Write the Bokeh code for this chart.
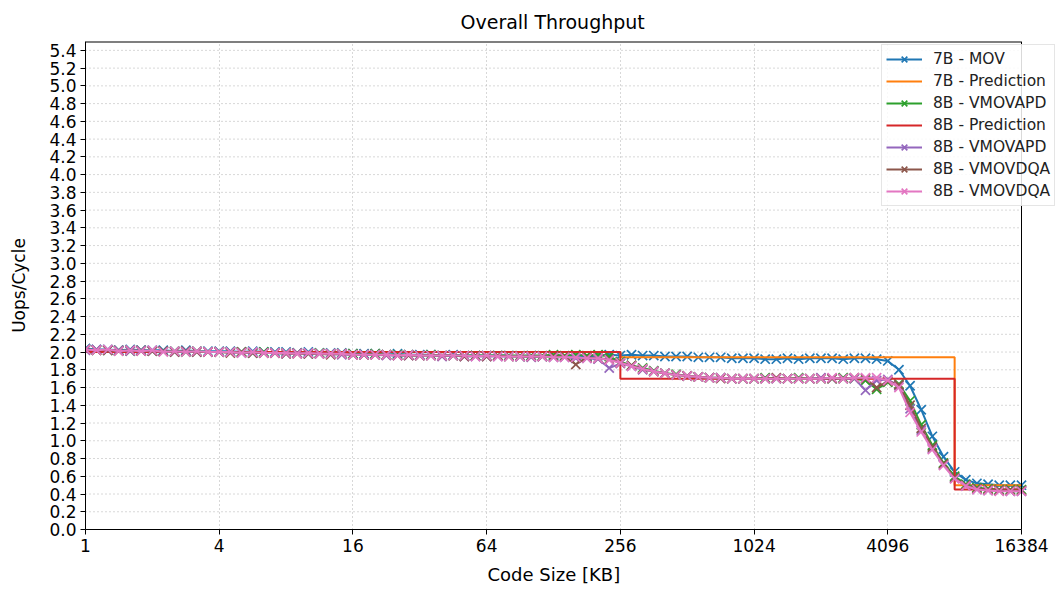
from bokeh.plotting import figure
from bokeh.models import (Range1d, FixedTicker, PrintfTickFormatter, NumeralTickFormatter,
                          Legend, LegendItem, Span, Title)
from bokeh.embed import file_html
from bokeh.resources import INLINE

# ---------------- data ----------------
SIZES_KB = [1, 1.12, 1.26, 1.41, 1.59, 1.78, 2, 2.24, 2.52, 2.83, 3.17, 3.56,
            4, 4.49, 5.04, 5.66, 6.35, 7.13, 8, 8.98, 10.08, 11.31, 12.7, 14.25,
            16, 17.96, 20.16, 22.63, 25.4, 28.51, 32, 35.92, 40.32, 45.25, 50.8, 57.02,
            64, 71.84, 80.63, 90.51, 101.6, 114.0, 128, 143.7, 161.3, 181.0, 203.2, 228.1,
            256, 287.4, 322.5, 362.0, 406.4, 456.1, 512, 574.7, 645.1, 724.1, 812.7, 912.3,
            1024, 1149, 1290, 1448, 1625, 1825, 2048, 2299, 2580, 2896, 3251, 3649,
            4096, 4598, 5161, 5793, 6502, 7298, 8192, 9195, 10321, 11585, 13004, 14596, 16384]

MOV_7B = [2.04, 2.03, 2.03, 2.02, 2.03, 2.02, 2.02, 2.02, 2.01, 2.02, 2.01, 2.01,
          2.01, 2.01, 2.00, 2.01, 2.00, 2.00, 2.00, 1.99, 2.00, 1.99, 1.99, 1.99,
          1.98, 1.98, 1.98, 1.97, 1.98, 1.97, 1.97, 1.97, 1.96, 1.97, 1.96, 1.96,
          1.96, 1.96, 1.96, 1.95, 1.96, 1.95, 1.96, 1.95, 1.96, 1.95, 1.96, 1.97,
          1.96, 1.97, 1.96, 1.96, 1.95, 1.95, 1.95, 1.94, 1.94, 1.94, 1.93, 1.93,
          1.93, 1.92, 1.92, 1.93, 1.92, 1.93, 1.93, 1.93, 1.92, 1.93, 1.93, 1.92,
          1.90, 1.80, 1.62, 1.35, 1.05, 0.82, 0.65, 0.56, 0.52, 0.51, 0.50, 0.50, 0.50]

VMOVAPD_8B_A = [2.03, 2.02, 2.02, 2.02, 2.01, 2.02, 2.01, 2.01, 2.01, 2.00, 2.01, 2.00,
                2.00, 2.00, 2.00, 1.99, 2.00, 1.99, 1.99, 1.99, 1.98, 1.99, 1.98, 1.98,
                1.98, 1.97, 1.98, 1.97, 1.97, 1.97, 1.96, 1.97, 1.96, 1.96, 1.96, 1.96,
                1.96, 1.96, 1.96, 1.96, 1.96, 1.96, 1.97, 1.96, 1.97, 1.96, 1.97, 1.95,
                1.89, 1.85, 1.82, 1.79, 1.76, 1.75, 1.73, 1.72, 1.71, 1.71, 1.70, 1.70,
                1.70, 1.71, 1.70, 1.70, 1.71, 1.70, 1.70, 1.70, 1.71, 1.70, 1.68, 1.58,
                1.66, 1.64, 1.45, 1.18, 0.95, 0.75, 0.60, 0.51, 0.47, 0.46, 0.45, 0.45, 0.45]

VMOVAPD_8B_B = [2.02, 2.03, 2.02, 2.02, 2.01, 2.02, 2.01, 2.01, 2.00, 2.01, 2.00, 2.00,
                2.00, 2.00, 1.99, 1.99, 1.99, 1.99, 1.98, 1.99, 1.98, 1.98, 1.98, 1.97,
                1.97, 1.97, 1.97, 1.96, 1.96, 1.96, 1.96, 1.96, 1.95, 1.96, 1.95, 1.95,
                1.95, 1.95, 1.95, 1.95, 1.94, 1.95, 1.94, 1.94, 1.93, 1.93, 1.92, 1.82,
                1.87, 1.84, 1.80, 1.78, 1.76, 1.74, 1.73, 1.72, 1.71, 1.71, 1.70, 1.70,
                1.70, 1.70, 1.70, 1.70, 1.70, 1.70, 1.71, 1.70, 1.70, 1.70, 1.57, 1.68,
                1.69, 1.62, 1.36, 1.12, 0.91, 0.73, 0.58, 0.49, 0.45, 0.44, 0.44, 0.43, 0.43]

VMOVDQA_8B_A = [2.03, 2.02, 2.02, 2.01, 2.02, 2.01, 2.01, 2.01, 2.00, 2.01, 2.00, 2.00,
                2.00, 1.99, 2.00, 1.99, 1.99, 1.99, 1.98, 1.98, 1.98, 1.98, 1.97, 1.98,
                1.97, 1.97, 1.97, 1.97, 1.96, 1.96, 1.96, 1.96, 1.96, 1.96, 1.95, 1.96,
                1.95, 1.96, 1.95, 1.95, 1.95, 1.95, 1.95, 1.95, 1.86, 1.94, 1.93, 1.92,
                1.88, 1.85, 1.81, 1.78, 1.76, 1.74, 1.73, 1.72, 1.71, 1.70, 1.70, 1.70,
                1.70, 1.70, 1.71, 1.70, 1.70, 1.70, 1.70, 1.70, 1.70, 1.71, 1.70, 1.60,
                1.67, 1.63, 1.40, 1.14, 0.93, 0.74, 0.58, 0.50, 0.46, 0.45, 0.44, 0.44, 0.44]

VMOVDQA_8B_B = [2.03, 2.02, 2.03, 2.01, 2.02, 2.01, 2.02, 2.00, 2.01, 2.00, 2.01, 2.00,
                2.00, 2.00, 1.99, 2.00, 1.99, 1.99, 1.99, 1.98, 1.99, 1.98, 1.98, 1.98,
                1.97, 1.97, 1.97, 1.97, 1.96, 1.97, 1.96, 1.96, 1.96, 1.96, 1.96, 1.95,
                1.96, 1.95, 1.95, 1.95, 1.95, 1.95, 1.94, 1.94, 1.94, 1.93, 1.93, 1.91,
                1.88, 1.84, 1.81, 1.78, 1.76, 1.74, 1.73, 1.72, 1.71, 1.71, 1.70, 1.70,
                1.70, 1.70, 1.70, 1.70, 1.70, 1.70, 1.70, 1.71, 1.70, 1.71, 1.71, 1.71,
                1.68, 1.60, 1.32, 1.10, 0.90, 0.72, 0.57, 0.49, 0.45, 0.44, 0.43, 0.43, 0.43]

PRED_X = [1, 256, 8192, 16384]
PRED_7B = [2.00, 1.94, 0.50, 0.50]
PRED_8B = [2.00, 1.70, 0.45, 0.45]

X_TICKS = [1, 4, 16, 64, 256, 1024, 4096, 16384]
Y_TICKS = [0.0, 0.2, 0.4, 0.6, 0.8, 1.0, 1.2, 1.4, 1.6, 1.8, 2.0, 2.2, 2.4, 2.6,
           2.8, 3.0, 3.2, 3.4, 3.6, 3.8, 4.0, 4.2, 4.4, 4.6, 4.8, 5.0, 5.2, 5.4]
X_MIN, X_MAX = 1, 16384
Y_MIN, Y_MAX = 0.0, 5.5

FONT = "DejaVu Sans"

# ---------------- layout (pixels) ----------------
W, H = 1058, 591
AX_LEFT, AX_RIGHT, AX_TOP, AX_BOTTOM = 85, 1021, 41, 530   # plotted box
FRAME_RIGHT = 1057                                          # frame extended so legend can overhang
px_per_oct = (AX_RIGHT - AX_LEFT) / 14.0
x_end = X_MAX * 2 ** ((FRAME_RIGHT - AX_RIGHT) / px_per_oct)

p = figure(width=W, height=H, x_axis_type="log",
           x_range=Range1d(X_MIN, x_end), y_range=Range1d(Y_MIN, Y_MAX),
           output_backend="svg", toolbar_location=None,
           min_border_left=AX_LEFT, min_border_right=W - FRAME_RIGHT,
           min_border_top=AX_TOP, min_border_bottom=H - AX_BOTTOM)

p.background_fill_color = "white"
p.border_fill_color = "white"
p.outline_line_color = None

p.xaxis.ticker = FixedTicker(ticks=X_TICKS)
p.xaxis.formatter = NumeralTickFormatter(format="0")
p.xaxis.bounds = (X_MIN, X_MAX)
p.yaxis.ticker = FixedTicker(ticks=Y_TICKS)
p.yaxis.formatter = PrintfTickFormatter(format="%.1f")
p.yaxis.axis_label = "Uops/Cycle"

for ax in (p.xaxis, p.yaxis):
    ax.axis_line_color = "black"
    ax.major_tick_line_color = "black"
    ax.major_tick_out = 5
    ax.major_tick_in = 0
    ax.minor_tick_out = 0
    ax.minor_tick_in = 0
    ax.major_label_text_font = FONT
    ax.major_label_text_font_size = "17px"
    ax.major_label_text_color = "black"
    ax.major_label_standoff = 4
    ax.axis_label_text_font = FONT
    ax.axis_label_text_font_size = "17px"
    ax.axis_label_text_font_style = "normal"
    ax.axis_label_text_color = "black"
p.yaxis.axis_label_standoff = 17

title = Title(text="Overall Throughput", align="left", offset=375,
              text_font=FONT, text_font_size="19px", text_font_style="normal",
              text_color="black", standoff=17)
p.add_layout(title, "above")

# x-axis label centred on the bounded axis
xlabel = Title(text="Code Size [KB]", align="left", offset=402,
               text_font=FONT, text_font_size="18px", text_font_style="normal",
               text_color="black", standoff=14)
p.add_layout(xlabel, "below")

# top spine (bounded) and right spine
p.segment(x0=[X_MIN], y0=[Y_MAX], x1=[X_MAX], y1=[Y_MAX], line_color="black", line_width=2)
p.add_layout(Span(location=X_MAX, dimension="height", line_color="black", line_width=1))

# grid
p.xgrid.grid_line_color = "#b0b0b0"
p.xgrid.grid_line_dash = "1 3"
p.xgrid.grid_line_width = 1
p.ygrid.grid_line_color = None
p.segment(x0=[X_MIN] * len(Y_TICKS), y0=Y_TICKS, x1=[X_MAX] * len(Y_TICKS), y1=Y_TICKS,
          line_color="#b0b0b0", line_dash="1 3", line_width=1)

COLORS = {"blue": "#1f77b4", "orange": "#ff7f0e", "green": "#2ca02c", "red": "#d62728",
          "purple": "#9467bd", "brown": "#8c564b", "pink": "#e377c2"}

items = []

def measured(ys, color, label):
    l = p.line(SIZES_KB, ys, line_color=color, line_width=2)
    s = p.scatter(SIZES_KB, ys, marker="x", size=13, line_color=color, line_width=1.7)
    items.append(LegendItem(label=label, renderers=[l, s]))

def prediction(ys, color, label):
    l = p.step(PRED_X, ys, mode="after", line_color=color, line_width=2)
    items.append(LegendItem(label=label, renderers=[l]))

measured(MOV_7B, COLORS["blue"], "7B - MOV")
prediction(PRED_7B, COLORS["orange"], "7B - Prediction")
measured(VMOVAPD_8B_A, COLORS["green"], "8B - VMOVAPD")
prediction(PRED_8B, COLORS["red"], "8B - Prediction")
measured(VMOVAPD_8B_B, COLORS["purple"], "8B - VMOVAPD")
measured(VMOVDQA_8B_A, COLORS["brown"], "8B - VMOVDQA")
measured(VMOVDQA_8B_B, COLORS["pink"], "8B - VMOVDQA")

legend = Legend(items=items, location=(881 - AX_LEFT, AX_BOTTOM - 207))
legend.label_text_font = FONT
legend.label_text_font_size = "15.5px"
legend.label_text_color = "#222222"
legend.label_standoff = 11
legend.glyph_width = 36
legend.glyph_height = 20
legend.label_height = 20
legend.spacing = 2
legend.padding = 4
legend.margin = 0
legend.border_line_color = "#cccccc"
legend.border_line_width = 1
legend.background_fill_color = "white"
legend.background_fill_alpha = 0.85
p.add_layout(legend, "center")

open("out.html", "w").write(file_html(p, INLINE))
